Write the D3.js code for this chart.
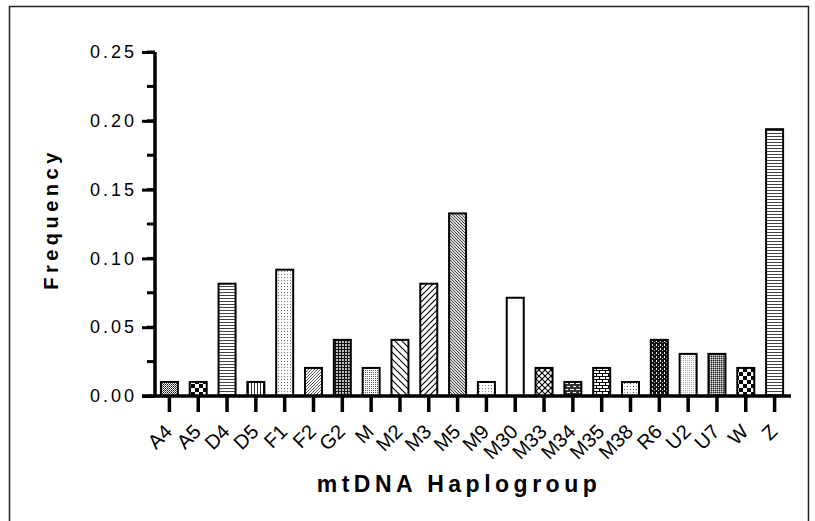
<!DOCTYPE html>
<html>
<head>
<meta charset="utf-8">
<script src="https://cdn.jsdelivr.net/npm/d3@7"></script>
<style>
  body { margin: 0; background: #fff; }
  text { font-family: "Liberation Sans", Arial, sans-serif; }
</style>
</head>
<body>
<div id="chart"></div>
<script>

// haplogroups and their frequency
const haplogroups = ["A4", "A5", "D4", "D5", "F1", "F2", "G2", "M", "M2", "M3", "M5",
    "M9", "M30", "M33", "M34", "M35", "M38", "R6", "U2", "U7", "W", "Z"];
const frequency = [0.0102, 0.0102, 0.0816, 0.0102, 0.0918, 0.0204, 0.0408, 0.0204, 0.0408, 0.0816, 0.1327,
    0.0102, 0.0714, 0.0204, 0.0102, 0.0204, 0.0102, 0.0408, 0.0306, 0.0306, 0.0204, 0.1939];
const yTicks = [0, 0.05, 0.10, 0.15, 0.20, 0.25];

// fill pattern used by each bar
const fillPattern = ["dots-dense", "checker", "hlines", "vlines", "dots-sparse", "diag-fine", "grid",
    "dots-mid", "back-wide", "diag-wide", "back-fine", "dots-sparse", "none", "cross",
    "brick-dark", "brick", "dots-diamond", "dark-dash", "dots-light", "dots-dark", "checker", "hlines"];

const data = haplogroups.map((h, i) => ({name: h, value: frequency[i], pattern: fillPattern[i]}));

const W = 815, H = 521;
const margin = {top: 52, right: 26, bottom: 125, left: 155};
const width = W - margin.left - margin.right;
const height = H - margin.top - margin.bottom;

const svg = d3.select("#chart").append("svg")
    .attr("width", W)
    .attr("height", H);

// patterns
const defs = svg.append("defs");

function pat(id, size) {
    let p = defs.append("pattern")
        .attr("id", id)
        .attr("patternUnits", "userSpaceOnUse")
        .attr("width", size)
        .attr("height", size);
    p.append("rect").attr("width", size).attr("height", size).attr("fill", "#fff");
    return p;
}

let p;
p = pat("dots-dense", 2);
p.append("rect").attr("width", 1).attr("height", 1).attr("fill", "#000");
p.append("rect").attr("x", 1).attr("y", 1).attr("width", 1).attr("height", 1).attr("fill", "#555");

p = pat("checker", 8);
p.append("rect").attr("width", 4).attr("height", 4).attr("fill", "#000");
p.append("rect").attr("x", 4).attr("y", 4).attr("width", 4).attr("height", 4).attr("fill", "#000");

p = pat("hlines", 3);
p.append("rect").attr("width", 3).attr("height", 1).attr("fill", "#444");

p = pat("vlines", 3);
p.append("rect").attr("width", 1).attr("height", 3).attr("fill", "#333");

p = pat("dots-sparse", 3);
p.append("rect").attr("width", 1).attr("height", 1).attr("fill", "#777");

p = pat("diag-fine", 3);
p.append("path").attr("d", "M0,3 L3,0 M-1,1 L1,-1 M2,4 L4,2").attr("stroke", "#444").attr("stroke-width", 0.9);

p = pat("grid", 3);
p.append("rect").attr("width", 3).attr("height", 3).attr("fill", "#bbb");
p.append("rect").attr("width", 3).attr("height", 1).attr("fill", "#111");
p.append("rect").attr("width", 1).attr("height", 3).attr("fill", "#111");

p = pat("dots-mid", 2);
p.append("rect").attr("width", 1).attr("height", 1).attr("fill", "#555");

p = pat("back-wide", 7);
p.append("path").attr("d", "M0,0 L7,7 M-1,6 L1,8 M6,-1 L8,1").attr("stroke", "#000").attr("stroke-width", 1.1);

p = pat("diag-wide", 6);
p.append("path").attr("d", "M0,6 L6,0 M-1,1 L1,-1 M5,7 L7,5").attr("stroke", "#000").attr("stroke-width", 1.1);

p = pat("back-fine", 3);
p.append("rect").attr("width", 3).attr("height", 3).attr("fill", "#ddd");
p.append("path").attr("d", "M0,0 L3,3 M-1,2 L1,4 M2,-1 L4,1").attr("stroke", "#333").attr("stroke-width", 0.9);

p = pat("cross", 6);
p.append("path").attr("d", "M0,0 L6,6 M0,6 L6,0").attr("stroke", "#000").attr("stroke-width", 1.1);

p = pat("brick-dark", 6);
p.append("rect").attr("width", 6).attr("height", 6).attr("fill", "#333");
p.append("rect").attr("x", 1).attr("y", 1).attr("width", 4).attr("height", 1).attr("fill", "#fff");
p.append("rect").attr("x", 4).attr("y", 4).attr("width", 4).attr("height", 1).attr("fill", "#fff");
p.append("rect").attr("x", -2).attr("y", 4).attr("width", 3).attr("height", 1).attr("fill", "#fff");

p = pat("brick", 6);
p.append("rect").attr("width", 6).attr("height", 1).attr("fill", "#000");
p.append("rect").attr("y", 3).attr("width", 6).attr("height", 1).attr("fill", "#000");
p.append("rect").attr("x", 0).attr("y", 0).attr("width", 1).attr("height", 3).attr("fill", "#000");
p.append("rect").attr("x", 3).attr("y", 3).attr("width", 1).attr("height", 3).attr("fill", "#000");

p = pat("dots-diamond", 6);
p.append("rect").attr("x", 1).attr("y", 1).attr("width", 1).attr("height", 1).attr("fill", "#444");
p.append("rect").attr("x", 4).attr("y", 4).attr("width", 1).attr("height", 1).attr("fill", "#444");
p.append("rect").attr("x", 4).attr("y", 1).attr("width", 1).attr("height", 1).attr("fill", "#999");
p.append("rect").attr("x", 1).attr("y", 4).attr("width", 1).attr("height", 1).attr("fill", "#999");

p = pat("dark-dash", 4);
p.append("rect").attr("width", 4).attr("height", 4).attr("fill", "#111");
p.append("rect").attr("x", 1).attr("y", 0).attr("width", 1).attr("height", 2).attr("fill", "#eee");
p.append("rect").attr("x", 3).attr("y", 2).attr("width", 1).attr("height", 1).attr("fill", "#bbb");

p = pat("dots-light", 2);
p.append("rect").attr("width", 1).attr("height", 1).attr("fill", "#aaa");

p = pat("dots-dark", 2);
p.append("rect").attr("width", 2).attr("height", 2).attr("fill", "#888");
p.append("rect").attr("width", 1).attr("height", 1).attr("fill", "#222");
p.append("rect").attr("x", 1).attr("y", 1).attr("width", 1).attr("height", 1).attr("fill", "#ddd");

// outer frame
svg.append("rect")
    .attr("x", 9.5).attr("y", 6.5)
    .attr("width", 799).attr("height", 530)
    .attr("fill", "none")
    .attr("stroke", "#222")
    .attr("stroke-width", 1.5);

const g = svg.append("g")
    .attr("transform", `translate(${margin.left}, ${margin.top})`);

const x = d3.scaleBand()
    .domain(haplogroups)
    .range([0, width])
    .paddingInner(0.41)
    .paddingOuter(0.205);

const y = d3.scaleLinear()
    .domain([0, 0.25])
    .range([height, 0]);

// bars
g.selectAll(".bar")
    .data(data)
    .enter().append("rect")
    .attr("class", "bar")
    .attr("x", d => x(d.name))
    .attr("y", d => y(d.value))
    .attr("width", x.bandwidth())
    .attr("height", d => y(0) - y(d.value))
    .attr("fill", d => d.pattern === "none" ? "#fff" : `url(#${d.pattern})`)
    .attr("stroke", "#000")
    .attr("stroke-width", 2);

// y axis with minor ticks
const minorTicks = d3.range(0, 0.2501, 0.025);
g.selectAll(".minor")
    .data(minorTicks)
    .enter().append("line")
    .attr("x1", -8).attr("x2", 0)
    .attr("y1", d => y(d)).attr("y2", d => y(d))
    .attr("stroke", "#000").attr("stroke-width", 3);

const yAxis = g.append("g")
    .call(d3.axisLeft(y).tickValues(yTicks).tickFormat(d3.format(".2f")).tickSize(13).tickPadding(5));
yAxis.select(".domain").attr("stroke-width", 3.5).attr("d", `M0,${height + 1}V0`);
yAxis.selectAll(".tick line").attr("stroke-width", 3);
yAxis.selectAll("text")
    .attr("font-size", 18)
    .attr("letter-spacing", 3)
    .attr("fill", "#000");

// x axis (labels drawn separately, rotated)
const xAxis = g.append("g")
    .attr("transform", `translate(0, ${height})`)
    .call(d3.axisBottom(x).tickSize(16).tickFormat(""));
xAxis.select(".domain").attr("stroke-width", 3.5).attr("d", `M-13,0H${width + 2}`);
xAxis.selectAll(".tick line").attr("stroke-width", 3.5);

g.append("g")
    .selectAll("g")
    .data(haplogroups)
    .enter().append("g")
    .attr("transform", d => `translate(${x(d) + x.bandwidth() / 2 - 1}, ${height + 32}) rotate(-45)`)
    .append("text")
    .attr("text-anchor", "end")
    .attr("dy", "0.35em")
    .attr("font-size", 20)
    .attr("fill", "#000")
    .text(d => d);

// axis titles
g.append("text")
    .attr("transform", `translate(-97, ${height / 2 - 5}) rotate(-90)`)
    .attr("text-anchor", "middle")
    .attr("font-size", 20)
    .attr("font-weight", "bold")
    .attr("letter-spacing", 4.5)
    .text("Frequency");

g.append("text")
    .attr("x", width / 2 - 13)
    .attr("y", height + 96)
    .attr("text-anchor", "middle")
    .attr("font-family", "Open Sans, Liberation Sans, sans-serif")
    .attr("font-size", 23)
    .attr("font-weight", "bold")
    .attr("letter-spacing", 4.5)
    .text("mtDNA Haplogroup");

</script>
</body>
</html>
